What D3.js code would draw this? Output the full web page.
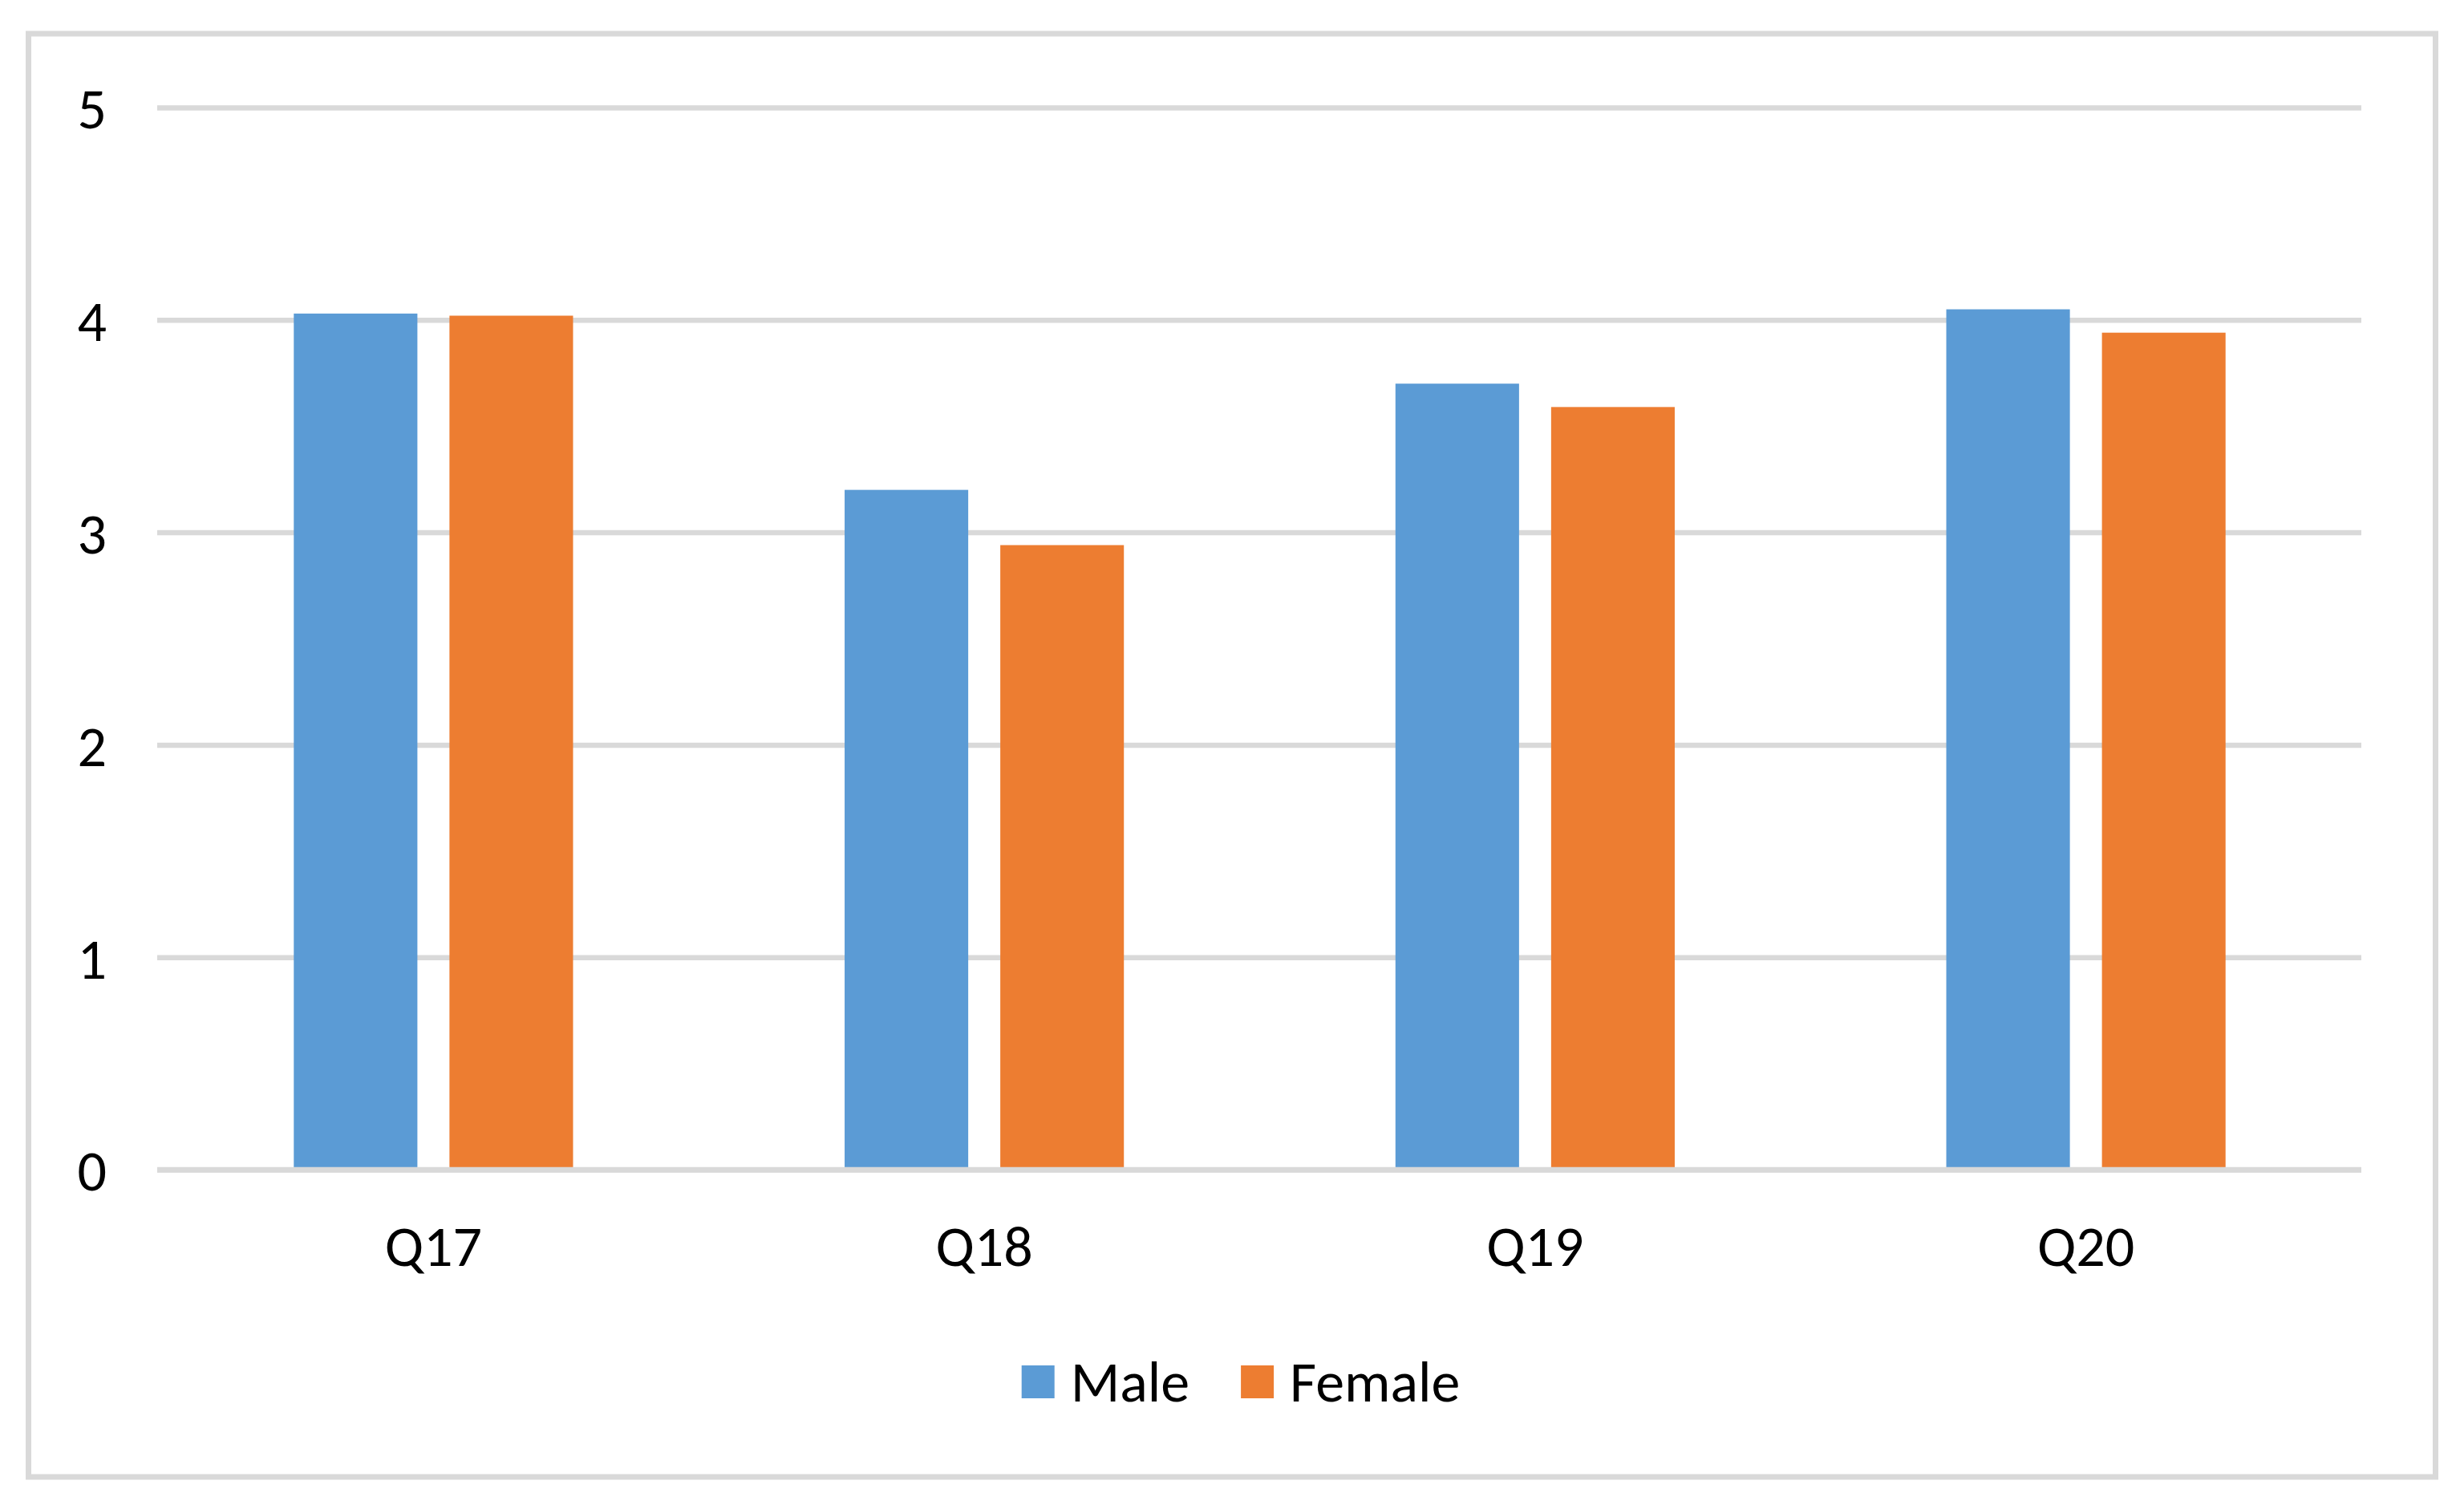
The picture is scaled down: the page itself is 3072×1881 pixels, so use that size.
<!DOCTYPE html>
<html>
<head>
  <meta charset="utf-8">
  <style>
    body {
      margin: 0;
      background: #fff;
    }
    text {
      font-family: Carlito, Calibri, Lato, sans-serif;
      fill: #000;
    }
  </style>
</head>
<body>
  <svg width="3072" height="1881"></svg>
  <script src="https://d3js.org/d3.v7.min.js"></script>
  <script>

  var categories = ["Q17", "Q18", "Q19", "Q20"];
  var seriesNames = ["Male", "Female"];
  var male = [4.03, 3.20, 3.70, 4.05];
  var female = [4.02, 2.94, 3.59, 3.94];
  var yTicks = [0, 1, 2, 3, 4, 5];

  var colors = { Male: "#5B9BD5", Female: "#ED7D31" };
  var gridColor = "#D9D9D9";
  var fontSize = 72;

  var svg = d3.select("svg"),
      width = +svg.attr("width"),
      height = +svg.attr("height");

  var plot = { left: 197, right: 2944, top: 134, bottom: 1458 };

  var data = categories.map(function(c, i) {
    return { cat: c, Male: male[i], Female: female[i] };
  });

  // chart area border
  svg.append("rect")
      .attr("x", 35.5)
      .attr("y", 42)
      .attr("width", 3001)
      .attr("height", 1799)
      .attr("fill", "#fff")
      .attr("stroke", gridColor)
      .attr("stroke-width", 7);

  var y = d3.scaleLinear()
      .domain([0, 5])
      .range([plot.bottom, plot.top]);

  var x0 = d3.scaleBand()
      .domain(categories)
      .range([plot.left, plot.right])
      .paddingInner(0.493)
      .paddingOuter(0.2465);

  var x1 = d3.scaleBand()
      .domain(seriesNames)
      .range([0, x0.bandwidth()])
      .paddingInner(0.206)
      .paddingOuter(0);

  // gridlines + y labels
  var yAxis = svg.append("g")
      .attr("transform", "translate(" + (plot.left - 1) + ",0)")
      .call(d3.axisLeft(y)
        .tickValues(yTicks)
        .tickSize(-(plot.right - plot.left + 1))
        .tickPadding(63)
        .tickFormat(d3.format("d")));

  yAxis.select(".domain").remove();
  yAxis.selectAll(".tick line")
      .attr("stroke", gridColor)
      .attr("stroke-width", 6.5);
  yAxis.selectAll(".tick text")
      .attr("font-size", fontSize)
      .attr("font-family", null)
      .attr("dy", "0.36em");

  // bars
  var groups = svg.append("g").selectAll("g")
      .data(data)
      .enter().append("g")
        .attr("transform", function(d) { return "translate(" + x0(d.cat) + ",0)"; });

  groups.selectAll("rect")
      .data(function(d) { return seriesNames.map(function(k) { return { key: k, value: d[k] }; }); })
      .enter().append("rect")
        .attr("x", function(d) { return x1(d.key); })
        .attr("y", function(d) { return y(d.value); })
        .attr("width", x1.bandwidth())
        .attr("height", function(d) { return y(0) - y(d.value); })
        .attr("fill", function(d) { return colors[d.key]; });

  // horizontal axis line drawn over the bars
  svg.append("line")
      .attr("x1", plot.left - 1)
      .attr("x2", plot.right)
      .attr("y1", y(0))
      .attr("y2", y(0))
      .attr("stroke", gridColor)
      .attr("stroke-width", 6.5);

  // category labels
  var xAxis = svg.append("g")
      .attr("transform", "translate(0," + y(0) + ")")
      .call(d3.axisBottom(x0).tickSize(0));

  xAxis.select(".domain").remove();
  xAxis.selectAll(".tick text")
      .attr("font-size", fontSize)
      .attr("font-family", null)
      .attr("y", 120)
      .attr("dy", 0);

  // legend
  var legend = svg.append("g");
  var cx = 0;
  seriesNames.forEach(function(name, i) {
    var item = legend.append("g").attr("transform", "translate(" + cx + ",0)");
    item.append("rect")
        .attr("x", 0)
        .attr("y", 1702)
        .attr("width", 41)
        .attr("height", 41)
        .attr("fill", colors[name]);
    var t = item.append("text")
        .attr("x", 61)
        .attr("y", 1747)
        .attr("font-size", fontSize)
        .text(name);
    cx += 61 + t.node().getComputedTextLength() + 64;
  });
  var legendWidth = cx - 64;
  legend.attr("transform", "translate(" + (1547 - legendWidth / 2) + ",0)");

  </script>
</body>
</html>
